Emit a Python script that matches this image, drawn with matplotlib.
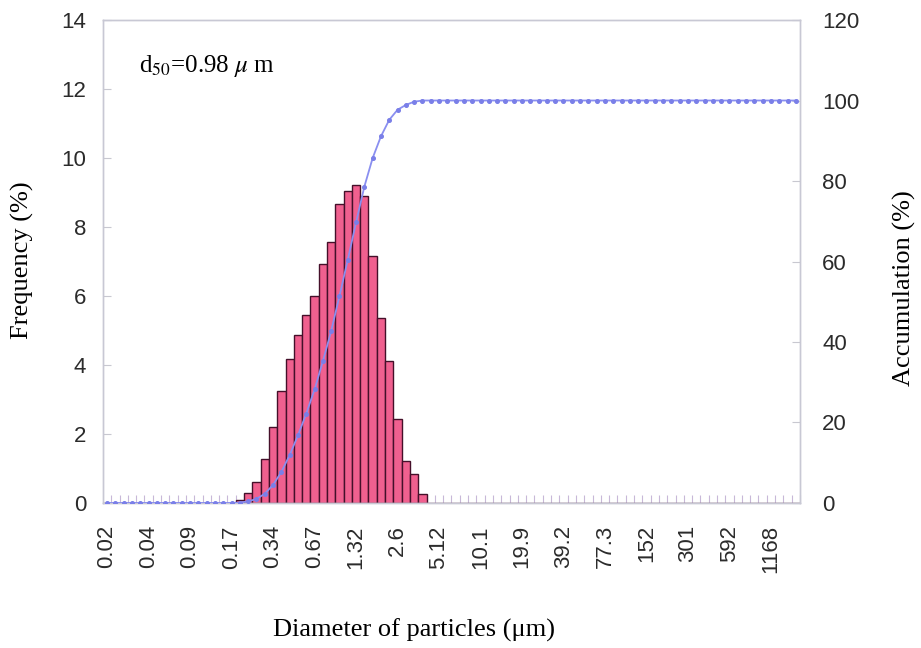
import numpy as np
import matplotlib.pyplot as plt

plt.rcParams['mathtext.fontset'] = 'stix'

# particle size bins (5 bins per labelled step), labels every 5th bin
size_labels = ['0.02', '0.04', '0.09', '0.17', '0.34', '0.67', '1.32', '2.6', '5.12',
               '10.1', '19.9', '39.2', '77.3', '152', '301', '592', '1168']
n_bins = 84

# frequency (%) per bin
freq = ([0.0] * 16 +
        [0.1, 0.3, 0.62, 1.27, 2.19, 3.25, 4.16, 4.88, 5.45, 6.0, 6.93, 7.57,
         8.67, 9.05, 9.23, 8.9, 7.16, 5.37, 4.12, 2.43, 1.22, 0.83, 0.26] +
        [0.0] * 45)

# accumulation (%) per bin
accum = ([0.0] * 16 +
         [0.1, 0.4, 1.0, 2.3, 4.5, 7.7, 11.9, 16.8, 22.2, 28.2, 35.2, 42.7,
          51.4, 60.4, 69.7, 78.6, 85.7, 91.1, 95.2, 97.7, 98.9, 99.7] +
         [100.0] * 46)

x = np.arange(n_bins)

fig = plt.figure(figsize=(9.21, 6.48), dpi=100)
ax = fig.add_axes([0.1118, 0.2238, 0.7568, 0.7453])

ax.bar(x, freq, width=1.0, color='#f0608f', edgecolor='#45102a', linewidth=1.0, zorder=2)
ax.set_xlim(-0.5, n_bins - 0.5)
ax.set_ylim(0, 14)
ax.set_yticks(np.arange(0, 15, 2))

ax.set_xticks(np.arange(0, n_bins, 5)[:len(size_labels)])
ax.set_xticklabels(size_labels, rotation=90, fontsize=16, color='#2b2b2b',
                   family='Liberation Sans')
ax.set_xticks(np.arange(n_bins) + 0.5, minor=True)
ax.tick_params(axis='x', which='major', length=0, pad=16)
ax.tick_params(axis='x', which='minor', direction='in', length=6, width=0.8, color='#c8b8d8')
ax.tick_params(axis='y', direction='in', length=6, width=0.8, color='#c8c8d0',
               labelsize=16, labelcolor='#2b2b2b', pad=12)
for lab in ax.get_yticklabels():
    lab.set_family('Liberation Sans')

for sp in ax.spines.values():
    sp.set_color('#c8c8d4')
    sp.set_linewidth(1.0)

ax2 = ax.twinx()
ax2.plot(x, accum, color='#8a8ff0', linewidth=1.3, marker='o', markersize=2.6,
         markerfacecolor='#7a7fe8', markeredgecolor='#7a7fe8', zorder=3)
ax2.set_ylim(0, 120)
ax2.set_yticks(np.arange(0, 121, 20))
ax2.tick_params(axis='y', direction='in', length=6, width=0.8, color='#c8c8d0',
                labelsize=16, labelcolor='#2b2b2b', pad=16)
for lab in ax2.get_yticklabels():
    lab.set_family('Liberation Sans')
for sp in ax2.spines.values():
    sp.set_color('#c8c8d4')
    sp.set_linewidth(1.0)

ax.text(0.052, 0.905, 'd$_{50}$=0.98 $\\mu$ m', transform=ax.transAxes,
        fontsize=18, family='Liberation Serif', va='center', ha='left')

fig.text(0.024, 0.599, 'Frequency (%)', rotation=90, fontsize=19, ha='center', va='center',
         family='Liberation Serif')
fig.text(0.982, 0.556, 'Accumulation (%)', rotation=90, fontsize=19, ha='center', va='center',
         family='Liberation Serif')
fig.text(0.45, 0.027, 'Diameter of particles (\u03bcm)', fontsize=19, ha='center', va='center',
         family='Liberation Serif')

fig.savefig('out.png', dpi=100)
